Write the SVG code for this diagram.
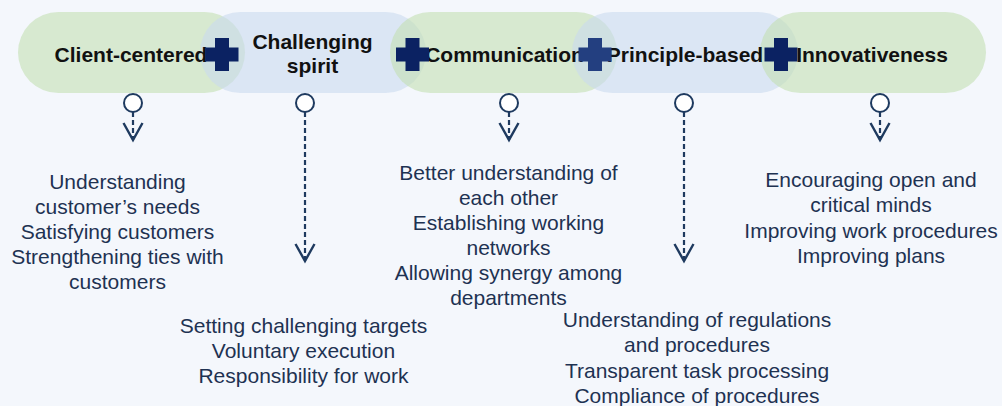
<svg xmlns="http://www.w3.org/2000/svg" width="1002" height="406" viewBox="0 0 1002 406">
  <style>
    .bg { fill: #f4f7fc; }
    .pill-g { fill: #c3dfb3; fill-opacity: 0.6; }
    .pill-b { fill: #c9daef; fill-opacity: 0.6; }
    .label { font-family: "Liberation Sans", Arial, sans-serif; font-size: 21px; font-weight: bold; fill: #111111; text-anchor: middle; }
    .body { font-family: "Liberation Sans", Arial, sans-serif; font-size: 21px; fill: #1e3252; text-anchor: middle; }
    .plus { fill: #0b2262; }
    .plus-light { fill: #233f80; }
    .dash { stroke: #1e3a5f; stroke-width: 2.2; stroke-dasharray: 5 3; fill: none; }
    .knob { fill: #ffffff; stroke: #1e3a5f; stroke-width: 2; }
    .chev { stroke: #1e3a5f; stroke-width: 2.4; fill: none; stroke-linejoin: miter; }
  </style>
  <defs>
    <path id="plusShape" d="M-7,-16.5 H7 V-7 H16.5 V7 H7 V16.5 H-7 V7 H-16.5 V-7 H-7 Z"/>
  </defs>

  <rect class="bg" x="0" y="0" width="1002" height="406"/>

  <!-- value pills -->
  <g id="node-client">
    <rect class="pill-g" x="18" y="12" width="227" height="81" rx="40.5"/>
  </g>
  <g id="node-challenging">
    <rect class="pill-b" x="200" y="12" width="226" height="81" rx="40.5"/>
  </g>
  <g id="node-communication">
    <rect class="pill-g" x="390" y="12" width="227" height="81" rx="40.5"/>
  </g>
  <g id="node-principle">
    <rect class="pill-b" x="572" y="12" width="226" height="81" rx="40.5"/>
  </g>
  <g id="node-innovativeness">
    <rect class="pill-g" x="760" y="12" width="226" height="81" rx="40.5"/>
  </g>

  <!-- pill titles -->
  <g id="titles">
    <text class="label" x="131" y="62">Client-centered</text>
    <text class="label" x="312.5" y="49">Challenging</text>
    <text class="label" x="312.5" y="73">spirit</text>
    <text class="label" x="504.5" y="62">Communication</text>
    <text class="label" x="685" y="62">Principle-based</text>
    <text class="label" x="872" y="62">Innovativeness</text>
  </g>

  <!-- plus joints -->
  <g id="joints">
    <use href="#plusShape" class="plus" x="222" y="54.5"/>
    <use href="#plusShape" class="plus" x="412.5" y="54.5"/>
    <use href="#plusShape" class="plus-light" x="595" y="54.5"/>
    <use href="#plusShape" class="plus" x="781" y="54.5"/>
  </g>

  <!-- connectors -->
  <g id="connectors">
    <line class="dash" x1="133" y1="112" x2="133" y2="140"/>
    <polyline class="chev" points="123.5,123 133,140 142.5,123"/>
    <circle class="knob" cx="133" cy="103" r="9"/>

    <line class="dash" x1="305" y1="112" x2="305" y2="261"/>
    <polyline class="chev" points="295.5,244 305,261 314.5,244"/>
    <circle class="knob" cx="305" cy="103" r="9"/>

    <line class="dash" x1="509" y1="112" x2="509" y2="140"/>
    <polyline class="chev" points="499.5,123 509,140 518.5,123"/>
    <circle class="knob" cx="509" cy="103" r="9"/>

    <line class="dash" x1="684" y1="112" x2="684" y2="261"/>
    <polyline class="chev" points="674.5,244 684,261 693.5,244"/>
    <circle class="knob" cx="684" cy="103" r="9"/>

    <line class="dash" x1="880" y1="112" x2="880" y2="140"/>
    <polyline class="chev" points="870.5,123 880,140 889.5,123"/>
    <circle class="knob" cx="880" cy="103" r="9"/>
  </g>

  <!-- descriptions -->
  <g id="desc-client">
    <text class="body" x="117.5" y="189">Understanding</text>
    <text class="body" x="117.5" y="214">customer’s needs</text>
    <text class="body" x="117.5" y="239">Satisfying customers</text>
    <text class="body" x="117.5" y="264">Strengthening ties with</text>
    <text class="body" x="117.5" y="289">customers</text>
  </g>
  <g id="desc-challenging">
    <text class="body" x="303.5" y="333">Setting challenging targets</text>
    <text class="body" x="303.5" y="358">Voluntary execution</text>
    <text class="body" x="303.5" y="383">Responsibility for work</text>
  </g>
  <g id="desc-communication">
    <text class="body" x="508.5" y="180">Better understanding of</text>
    <text class="body" x="508.5" y="205">each other</text>
    <text class="body" x="508.5" y="230">Establishing working</text>
    <text class="body" x="508.5" y="255">networks</text>
    <text class="body" x="508.5" y="280">Allowing synergy among</text>
    <text class="body" x="508.5" y="305">departments</text>
  </g>
  <g id="desc-principle">
    <text class="body" x="697" y="327">Understanding of regulations</text>
    <text class="body" x="697" y="352">and procedures</text>
    <text class="body" x="697" y="378">Transparent task processing</text>
    <text class="body" x="697" y="403">Compliance of procedures</text>
  </g>
  <g id="desc-innovativeness">
    <text class="body" x="871" y="187">Encouraging open and</text>
    <text class="body" x="871" y="212">critical minds</text>
    <text class="body" x="871" y="238">Improving work procedures</text>
    <text class="body" x="871" y="263">Improving plans</text>
  </g>
</svg>
